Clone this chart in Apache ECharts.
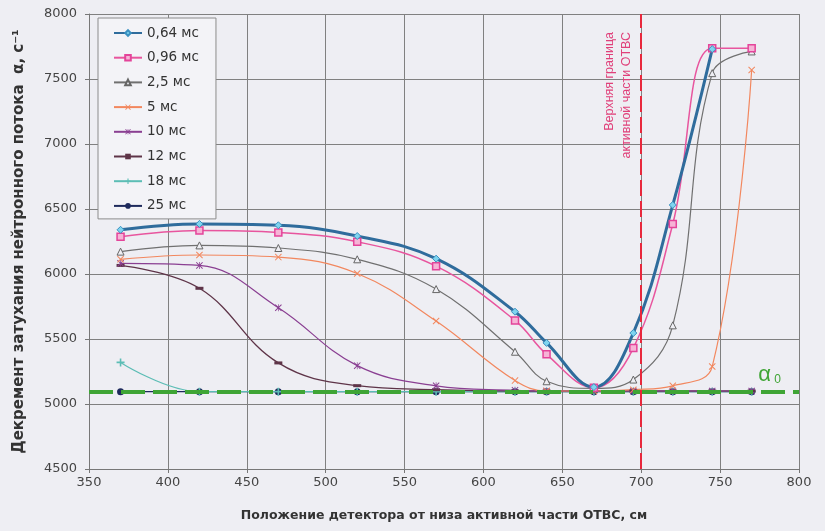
<!DOCTYPE html>
<html>
<head>
<meta charset="utf-8">
<script src="https://cdn.jsdelivr.net/npm/echarts@6/dist/echarts.min.js"></script>
<style>
  html, body { margin: 0; padding: 0; background: #eeeef3; }
  #chart { width: 825px; height: 531px; }
</style>
</head>
<body>
<div id="chart"></div>
<script>
// положения детектора, см
const positions = [370, 420, 470, 520, 570, 620, 640, 670, 695, 720, 745, 770]

// значения декремента для разных задержек
const t064 = [6340, 6385, 6375, 6292, 6118, 5710, 5470, 5130, 5546, 6531, 7730]
const t096 = [6287, 6335, 6320, 6248, 6060, 5643, 5382, 5125, 5430, 6385, 7736, 7736]
const t25 = [6172, 6220, 6200, 6113, 5884, 5402, 5175, 5120, 5188, 5605, 7545, 7712]
const t5 = [6113, 6146, 6130, 6004, 5638, 5180, 5100, 5100, 5110, 5140, 5288, 7569]
const t10 = [6082, 6066, 5740, 5295, 5140, 5105, 5100, 5100, 5100, 5100, 5100, 5100]
const t12 = [6066, 5890, 5316, 5141, 5110, 5100, 5100, 5100, 5100, 5100, 5100, 5100]
const t18 = [5320, 5095, 5095, 5095, 5095, 5095, 5095, 5095, 5095, 5095, 5095, 5095]
const t25ms = [5095, 5095, 5095, 5095, 5095, 5095, 5095, 5095, 5095, 5095, 5095, 5095]

const legendNames = ['0,64 мс', '0,96 мс', '2,5 мс', '5 мс', '10 мс', '12 мс', '18 мс', '25 мс']
const alpha0 = 5095
const upperBound = 700

const symX = 'path://M0,1L1,0L5,4L9,0L10,1L6,5L10,9L9,10L5,6L1,10L0,9L4,5Z'
const symStar = 'path://M0,1L1,0L5,4L9,0L10,1L6,5L10,9L9,10L5,6L1,10L0,9L4,5ZM4.5,0H5.5V10H4.5Z'
const symDash = 'path://M0,0H10V3H0Z'
const symPlus = 'path://M4,0H6V4H10V6H6V10H4V6H0V4H4Z'

const font = "'DejaVu Sans', Verdana, sans-serif"
const fontNarrow = "'Liberation Sans', Arial, sans-serif"

function line(name, vals, color, width, symbol, size, itemStyle) {
	return {
		name: name,
		type: 'line',
		smooth: 0.4,
		data: vals.map((v, i) => [positions[i], v]),
		symbol: symbol,
		symbolSize: size,
		lineStyle: { color: color, width: width },
		itemStyle: Object.assign({ color: color }, itemStyle || {}),
		emphasis: { disabled: true }
	}
}

const chart = echarts.init(document.getElementById('chart'))

const series = [
	line('25 мс', t25ms, '#1e2a5c', 1.2, 'circle', 7),
	line('18 мс', t18, '#5cbdb5', 1.2, symPlus, 8),
	line('12 мс', t12, '#5e3448', 1.3, symDash, [8, 3]),
	line('10 мс', t10, '#8a3f92', 1.2, symStar, 7),
	line('5 мс', t5, '#f2875e', 1.2, symX, 7),
	line('2,5 мс', t25, '#707070', 1.2, 'triangle', 7, { color: '#eeeef3', borderColor: '#666', borderWidth: 1 }),
	line('0,96 мс', t096, '#e8559e', 1.5, 'rect', 7, { color: '#f6b4d6', borderColor: '#e4449a', borderWidth: 1.5 }),
	line('0,64 мс', t064, '#2f6c9c', 3, 'diamond', 7, { color: '#7fd4ef', borderColor: '#3a90c0', borderWidth: 1 })
]

// пунктир alpha0 и граница активной части
series.push({
	name: 'guides',
	type: 'line',
	data: [],
	markLine: {
		silent: true,
		symbol: 'none',
		animation: false,
		data: [
			{
				yAxis: alpha0,
				lineStyle: { color: '#3fa535', width: 4, type: [24, 8] },
				label: {
					position: 'insideEndTop',
					distance: [18, 6],
					formatter: '{a|α}{b| 0}',
					rich: {
						a: { fontSize: 22, color: '#3fa535', fontFamily: fontNarrow },
						b: { fontSize: 12, color: '#3fa535', fontFamily: fontNarrow, padding: [10, 0, 0, 0] }
					}
				}
			},
			{
				xAxis: upperBound,
				lineStyle: { color: '#e8283c', width: 2, type: [16, 5] },
				label: {
					position: 'insideEndTop',
					distance: [18, 6],
					formatter: 'Верхняя граница\nактивной части ОТВС',
					color: '#e0407a',
					fontSize: 12.5,
					lineHeight: 17,
					fontFamily: fontNarrow
				}
			}
		]
	}
})

chart.setOption({
	backgroundColor: '#eeeef3',
	animation: false,
	grid: { left: 89, right: 26, top: 14, bottom: 62 },
	legend: {
		data: legendNames,
		orient: 'vertical',
		left: 98,
		top: 18,
		padding: [8, 17, 6, 15],
		itemWidth: 28,
		itemHeight: 7,
		itemGap: 10.7,
		backgroundColor: '#f3f3f7',
		borderColor: '#8c8c8c',
		borderWidth: 1,
		textStyle: { fontSize: 13.5, color: '#333', fontFamily: font }
	},
	xAxis: {
		type: 'value',
		min: 350,
		max: 800,
		interval: 50,
		name: 'Положение детектора от низа активной части ОТВС, см',
		nameLocation: 'middle',
		nameGap: 40,
		nameTextStyle: { fontSize: 12.5, fontWeight: 'bold', color: '#333', fontFamily: font },
		axisLine: { lineStyle: { color: '#777' } },
		axisTick: { length: 4, lineStyle: { color: '#777' } },
		axisLabel: { fontSize: 13, color: '#444', margin: 7, fontFamily: font, formatter: v => String(v) },
		splitLine: { lineStyle: { color: '#808080', width: 1 } }
	},
	yAxis: {
		type: 'value',
		min: 4500,
		max: 8000,
		interval: 500,
		name: 'Декремент затухания нейтронного потока  α, с⁻¹',
		nameLocation: 'middle',
		nameGap: 62,
		nameTextStyle: { fontSize: 15, fontWeight: 'bold', color: '#333', fontFamily: font },
		axisLine: { show: true, lineStyle: { color: '#777' } },
		axisTick: { show: true, length: 4, lineStyle: { color: '#777' } },
		axisLabel: { fontSize: 13, color: '#444', margin: 12, fontFamily: font, formatter: v => String(v) },
		splitLine: { lineStyle: { color: '#808080', width: 1 } }
	},
	series: series
})
</script>
</body>
</html>
